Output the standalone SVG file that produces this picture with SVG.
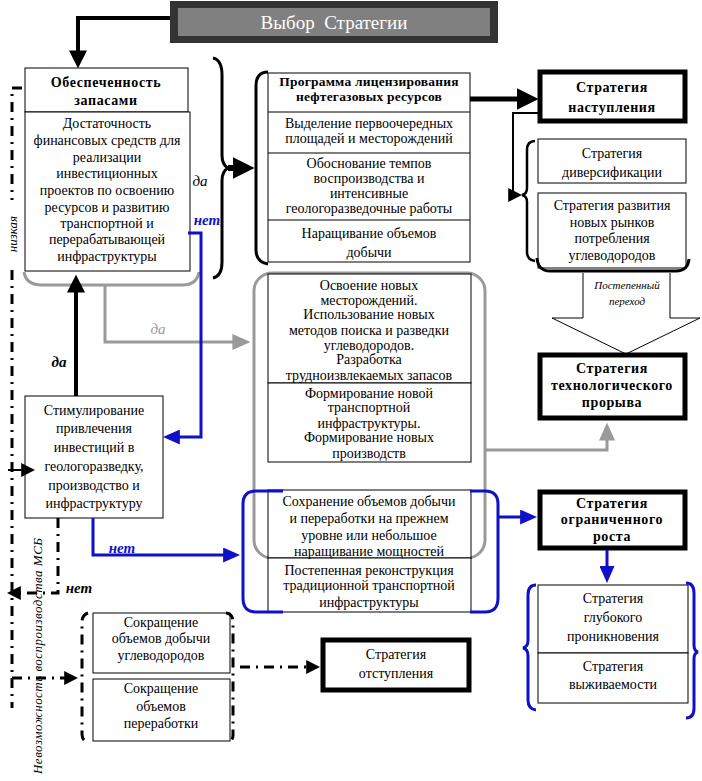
<svg xmlns="http://www.w3.org/2000/svg" width="702" height="781" viewBox="0 0 702 781" font-family="Liberation Serif, DejaVu Serif, serif">
<style>
.t{font-family:"Liberation Serif","DejaVu Serif",serif;font-size:14px;text-anchor:middle;fill:#000}
.b{font-weight:bold;letter-spacing:0.6px}
.box{fill:#fff;stroke:#000;stroke-width:1}
.thick{fill:#fff;stroke:#000;stroke-width:5}
.ln{fill:none;stroke:#000}
.blue{fill:none;stroke:#1010c8;stroke-width:3}
.gray{fill:none;stroke:#9a9a9a;stroke-width:3}
.dd{fill:none;stroke:#000;stroke-width:3;stroke-dasharray:10,6,2,6}
.lbl{font-family:"Liberation Serif","DejaVu Serif",serif;font-size:15px;font-style:italic;text-anchor:middle}
</style>
<defs>
<marker id="big" viewBox="0 0 10 10" refX="7" refY="5" markerWidth="22" markerHeight="22" markerUnits="userSpaceOnUse" orient="auto"><path d="M0,0L10,5L0,10z" fill="#000"/></marker>
<marker id="med" viewBox="0 0 10 10" refX="7" refY="5" markerWidth="18" markerHeight="18" markerUnits="userSpaceOnUse" orient="auto"><path d="M0,0L10,5L0,10z" fill="#000"/></marker>
<marker id="sm" viewBox="0 0 10 10" refX="7" refY="5" markerWidth="14" markerHeight="14" markerUnits="userSpaceOnUse" orient="auto"><path d="M0,0L10,5L0,10z" fill="#000"/></marker>
<marker id="bl" viewBox="0 0 10 10" refX="7" refY="5" markerWidth="17" markerHeight="15" markerUnits="userSpaceOnUse" orient="auto" preserveAspectRatio="none"><path d="M0,0L10,5L0,10z" fill="#1010c8"/></marker>
<marker id="gr" viewBox="0 0 10 10" refX="7" refY="5" markerWidth="18" markerHeight="16" markerUnits="userSpaceOnUse" orient="auto" preserveAspectRatio="none"><path d="M0,0L10,5L0,10z" fill="#9a9a9a"/></marker>
</defs>
<rect width="702" height="781" fill="#fff"/>

<g id="title">
<rect x="170" y="1" width="328" height="42" fill="#333"/>
<rect x="178" y="8" width="312" height="28" fill="#808080"/>
<text x="334" y="29" class="t" style="font-size:19px;fill:#fff;white-space:pre">Выбор  Стратегии</text>
</g>

<g id="obespechennost">
<rect x="25" y="68" width="163" height="44" class="box"/>
<rect x="25" y="112" width="165" height="159" class="box"/>
<text class="t b" x="106"><tspan x="106" y="87">Обеспеченность</tspan><tspan x="106" y="105">запасами</tspan></text>
<text class="t" x="107"><tspan x="107" y="128">Достаточность</tspan><tspan x="107" y="145">финансовых средств для</tspan><tspan x="107" y="162">реализации</tspan><tspan x="107" y="178">инвестиционных</tspan><tspan x="107" y="195">проектов по освоению</tspan><tspan x="107" y="212">ресурсов и развитию</tspan><tspan x="107" y="228">транспортной и</tspan><tspan x="107" y="244">перерабатывающей</tspan><tspan x="107" y="261">инфраструктуры</tspan></text>
</g>

<g id="programma">
<rect x="268" y="73" width="202" height="189" class="box"/>
<path d="M268,112H470M268,153H470M268,220H470" class="ln"/>
<text class="t b" x="369" style="letter-spacing:0.2px;font-size:13.5px"><tspan x="369" y="86">Программа лицензирования</tspan><tspan x="369" y="101">нефтегазовых ресурсов</tspan></text>
<text class="t" x="369"><tspan x="369" y="128">Выделение первоочередных</tspan><tspan x="369" y="143">площадей и месторождений</tspan><tspan x="369" y="168">Обоснование темпов</tspan><tspan x="369" y="183">воспроизводства и</tspan><tspan x="369" y="198">интенсивные</tspan><tspan x="369" y="213">геологоразведочные работы</tspan><tspan x="369" y="238">Наращивание объемов</tspan><tspan x="369" y="257">добычи</tspan></text>
</g>

<g id="nastuplenie">
<rect x="540" y="72" width="145" height="49" class="thick"/>
<text class="t b" x="612"><tspan x="612" y="92">Стратегия</tspan><tspan x="612" y="112">наступления</tspan></text>
</g>

<g id="diversifikacia">
<rect x="538" y="139" width="148" height="44" class="box"/>
<rect x="538" y="193" width="148" height="75" class="box"/>
<text class="t" x="612"><tspan x="612" y="158">Стратегия</tspan><tspan x="612" y="177">диверсификации</tspan><tspan x="612" y="210">Стратегия развития</tspan><tspan x="612" y="227">новых рынков</tspan><tspan x="612" y="243">потребления</tspan><tspan x="612" y="260">углеводородов</tspan></text>
</g>

<g id="postepenny-perehod">
<path d="M583,273V318H552L626,354L700,318H670V273" fill="#fff" stroke="#000" stroke-width="1"/>
<text class="t" style="font-size:11px;font-style:italic"><tspan x="627" y="289">Постепенный</tspan><tspan x="627" y="305">переход</tspan></text>
</g>

<g id="tehnologicheskiy-proryv">
<rect x="540" y="355" width="145" height="63" class="thick"/>
<text class="t b" x="612"><tspan x="612" y="373">Стратегия</tspan><tspan x="612" y="390">технологического</tspan><tspan x="612" y="407">прорыва</tspan></text>
</g>

<g id="osvoenie">
<rect x="254" y="273" width="231" height="285" rx="18" class="gray"/>
<rect x="268" y="274" width="203" height="109" class="box"/>
<rect x="268" y="383" width="203" height="79" class="box"/>
<text class="t" x="369"><tspan x="369" y="290">Освоение новых</tspan><tspan x="369" y="305">месторождений.</tspan><tspan x="369" y="319">Использование новых</tspan><tspan x="369" y="335">методов поиска и разведки</tspan><tspan x="369" y="350">углеводородов.</tspan><tspan x="369" y="364">Разработка</tspan><tspan x="369" y="380">трудноизвлекаемых запасов</tspan><tspan x="369" y="398">Формирование новой</tspan><tspan x="369" y="412">транспортной</tspan><tspan x="369" y="428">инфраструктуры.</tspan><tspan x="369" y="442">Формирование новых</tspan><tspan x="369" y="458">производств</tspan></text>
</g>

<g id="sohranenie">
<rect x="268" y="490" width="203" height="68" class="box"/>
<rect x="268" y="558" width="203" height="54" class="box"/>
<path d="M283,491H256Q243,491 243,504V598Q243,612 256,612H283" class="blue"/>
<path d="M470,491H485Q498,491 498,504V598Q498,612 485,612H470" class="blue"/>
<text class="t" x="369"><tspan x="369" y="506">Сохранение объемов добычи</tspan><tspan x="369" y="523">и переработки на прежнем</tspan><tspan x="369" y="540">уровне или небольшое</tspan><tspan x="369" y="556">наращивание мощностей</tspan><tspan x="369" y="575">Постепенная реконструкция</tspan><tspan x="369" y="590">традиционной транспортной</tspan><tspan x="369" y="607">инфраструктуры</tspan></text>
</g>

<g id="ogranichenny-rost">
<rect x="540" y="492" width="145" height="56" class="thick"/>
<text class="t b" x="612"><tspan x="612" y="508">Стратегия</tspan><tspan x="612" y="524">ограниченного</tspan><tspan x="612" y="541">роста</tspan></text>
</g>

<g id="glubokoe-proniknovenie">
<rect x="538" y="585" width="150" height="68" class="box"/>
<rect x="538" y="653" width="150" height="50" class="box"/>
<path d="M536,585Q528,585 528,595V640Q528,647 523,648Q528,649 528,656V700Q528,709 536,710" class="blue"/>
<path d="M686,583Q694,583 694,593V645Q694,651 698,652Q694,653 694,659V708Q694,718 686,718" class="blue"/>
<text class="t" x="613"><tspan x="613" y="603">Стратегия</tspan><tspan x="613" y="622">глубокого</tspan><tspan x="613" y="641">проникновения</tspan><tspan x="613" y="671">Стратегия</tspan><tspan x="613" y="689">выживаемости</tspan></text>
</g>

<g id="stimulirovanie">
<rect x="25" y="396" width="138" height="122" class="box"/>
<text class="t" x="94"><tspan x="94" y="415">Стимулирование</tspan><tspan x="94" y="433">привлечения</tspan><tspan x="94" y="452">инвестиций в</tspan><tspan x="94" y="471">геологоразведку,</tspan><tspan x="94" y="490">производство и</tspan><tspan x="94" y="508">инфраструктуру</tspan></text>
</g>

<g id="sokraschenie">
<rect x="93" y="613" width="137" height="60" class="box"/>
<rect x="93" y="679" width="137" height="62" class="box"/>
<path d="M88,613Q82,615 82,622V734Q82,741 88,742" class="dd"/>
<path d="M226,613Q233,614 233,622V735Q233,741 228,742" class="dd"/>
<text class="t" x="161"><tspan x="161" y="627">Сокращение</tspan><tspan x="161" y="643">объемов добычи</tspan><tspan x="161" y="660">углеводородов</tspan><tspan x="161" y="693">Сокращение</tspan><tspan x="161" y="711">объемов</tspan><tspan x="161" y="728">переработки</tspan></text>
</g>

<g id="otstuplenie">
<rect x="323" y="640" width="146" height="50" class="thick"/>
<text class="t" x="396"><tspan x="396" y="659">Стратегия</tspan><tspan x="396" y="678">отступления</tspan></text>
</g>

<g id="connectors">
<path d="M170,18H78V63" class="ln" stroke-width="4" marker-end="url(#med)"/>
<path d="M213,58Q222,60 222,75V155Q222,165 228,168Q222,171 222,181V262Q222,276 213,278" class="ln" stroke-width="3"/>
<path d="M228,168H248" class="ln" stroke-width="6" marker-end="url(#big)"/>
<path d="M268,72Q256,72 256,86V250Q256,262 268,264" class="ln" stroke-width="3"/>
<path d="M470,99H532" class="ln" stroke-width="5" marker-end="url(#big)"/>
<path d="M540,113H513V195H518" class="ln" stroke-width="2" marker-end="url(#sm)"/>
<path d="M535,141Q527,141 527,150V188Q527,194 522,195Q527,196 527,202V252Q527,260 535,261" class="ln" stroke-width="2.5"/>
<path d="M537,258Q538,271 550,271H676Q688,271 689,259" class="ln" stroke-width="3"/>
<path d="M24,272Q26,285 42,285H182Q197,285 199,272" class="gray"/>
<path d="M105,285V342H245" class="gray" marker-end="url(#gr)"/>
<path d="M485,450H607V428" class="gray" marker-end="url(#gr)"/>
<path d="M76,396V280" class="ln" stroke-width="4" marker-end="url(#med)"/>
<path d="M188,233H201V437H168" class="blue" marker-end="url(#bl)"/>
<path d="M93,518V555H235" class="blue" marker-end="url(#bl)"/>
<path d="M498,517H532" class="blue" marker-end="url(#bl)"/>
<path d="M607,550V578" class="blue" marker-end="url(#bl)"/>
<path d="M58,518V593H11" class="dd" marker-end="url(#sm)"/>
<path d="M22,88H12V200" class="dd"/>
<path d="M12,270V708" class="dd"/>
<path d="M12,678H74" class="dd" marker-end="url(#sm)"/>
<path d="M8,470H31" class="ln" stroke-width="2" marker-end="url(#sm)"/>
<path d="M240,667H316" class="dd" marker-end="url(#sm)"/>
</g>

<g id="labels">
<text class="lbl" x="200" y="186">да</text>
<text class="lbl" x="207" y="225" style="font-weight:bold;fill:#1010c8">нет</text>
<text class="lbl" x="158" y="334" style="fill:#9a9a9a">да</text>
<text class="lbl" x="59" y="367" style="font-weight:bold">да</text>
<text class="lbl" x="122" y="553" style="font-weight:bold;fill:#1010c8">нет</text>
<text class="lbl" x="79" y="593" style="font-weight:bold">нет</text>
<text class="lbl" transform="translate(17,234) rotate(-90)" style="font-size:13px">низкая</text>
<text class="lbl" transform="translate(42,656) rotate(-90)" style="font-size:13px" textLength="236" lengthAdjust="spacing">Невозможность воспроизводства МСБ</text>
</g>
</svg>
